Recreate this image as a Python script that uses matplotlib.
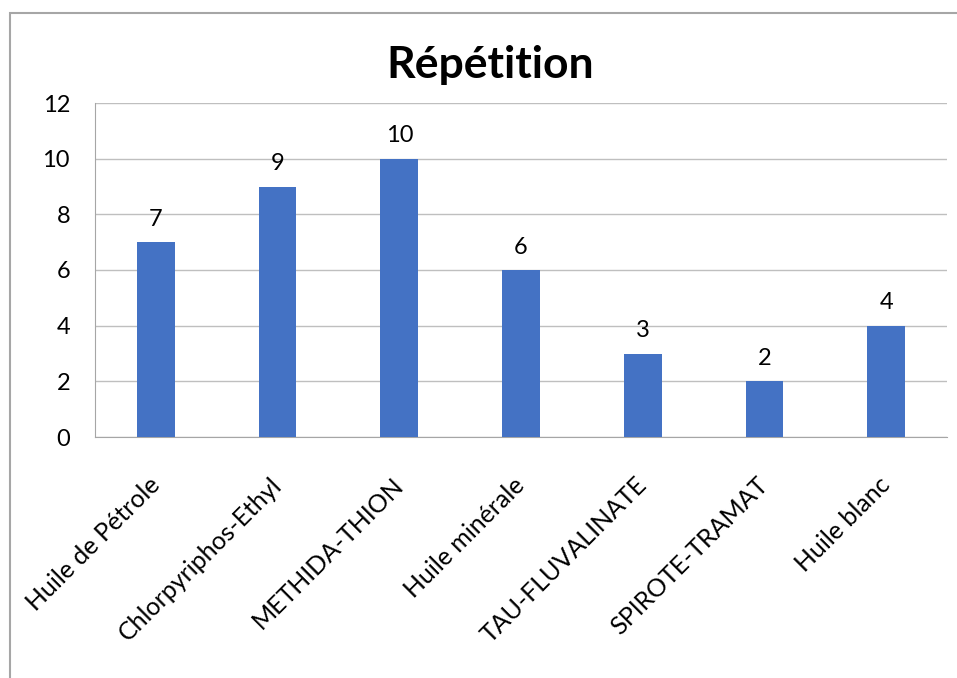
import matplotlib.pyplot as plt
from matplotlib.patches import Rectangle

categories = ['Huile de Pétrole', 'Chlorpyriphos-Ethyl', 'METHIDA-THION', 'Huile minérale',
              'TAU-FLUVALINATE', 'SPIROTE-TRAMAT', 'Huile blanc']
values = [7, 9, 10, 6, 3, 2, 4]
yticks = [0, 2, 4, 6, 8, 10, 12]

plt.rcParams['font.family'] = ['Lato', 'DejaVu Sans']

W, H = 957, 678
fig = plt.figure(figsize=(W / 100, H / 100), dpi=100)
ax = fig.add_axes([95 / W, 1 - 437 / H, (947 - 95) / W, (437 - 103) / H])

# outer chart border (runs off the right/bottom edges)
fig.patches.append(Rectangle((10 / W, -0.1), 1.2, 1 - 13 / H + 0.1, transform=fig.transFigure,
                             fill=False, edgecolor='#A6A6A6', linewidth=1.5))

x = range(len(categories))
bars = ax.bar(x, values, width=0.31, color='#4472C4', zorder=3)
for b, v in zip(bars, values):
    ax.annotate(str(v), (b.get_x() + b.get_width() / 2, v), xytext=(0, 9),
                textcoords='offset points', ha='center', va='bottom', fontsize=17)

ax.set_xlim(-0.5, len(categories) - 0.5)
ax.set_ylim(0, 12)
ax.set_yticks(yticks)
ax.set_yticklabels([str(t) for t in yticks], fontsize=17)
ax.set_xticks(list(x))
ax.set_xticklabels(categories, rotation=45, ha='right', va='center', rotation_mode='anchor', fontsize=18)
ax.tick_params(length=0)
ax.tick_params(axis='y', pad=18)
ax.tick_params(axis='x', pad=32)
ax.grid(axis='y', color='#BFBFBF', linewidth=1, zorder=0)
for s in ['top', 'right']:
    ax.spines[s].set_visible(False)
ax.spines['left'].set_color('#A6A6A6')
ax.spines['bottom'].set_color('#A6A6A6')

fig.text(490 / W, 1 - 65 / H, 'Répétition', ha='center', va='center',
         fontsize=32, fontweight='bold')

fig.savefig('out.png', dpi=100)
